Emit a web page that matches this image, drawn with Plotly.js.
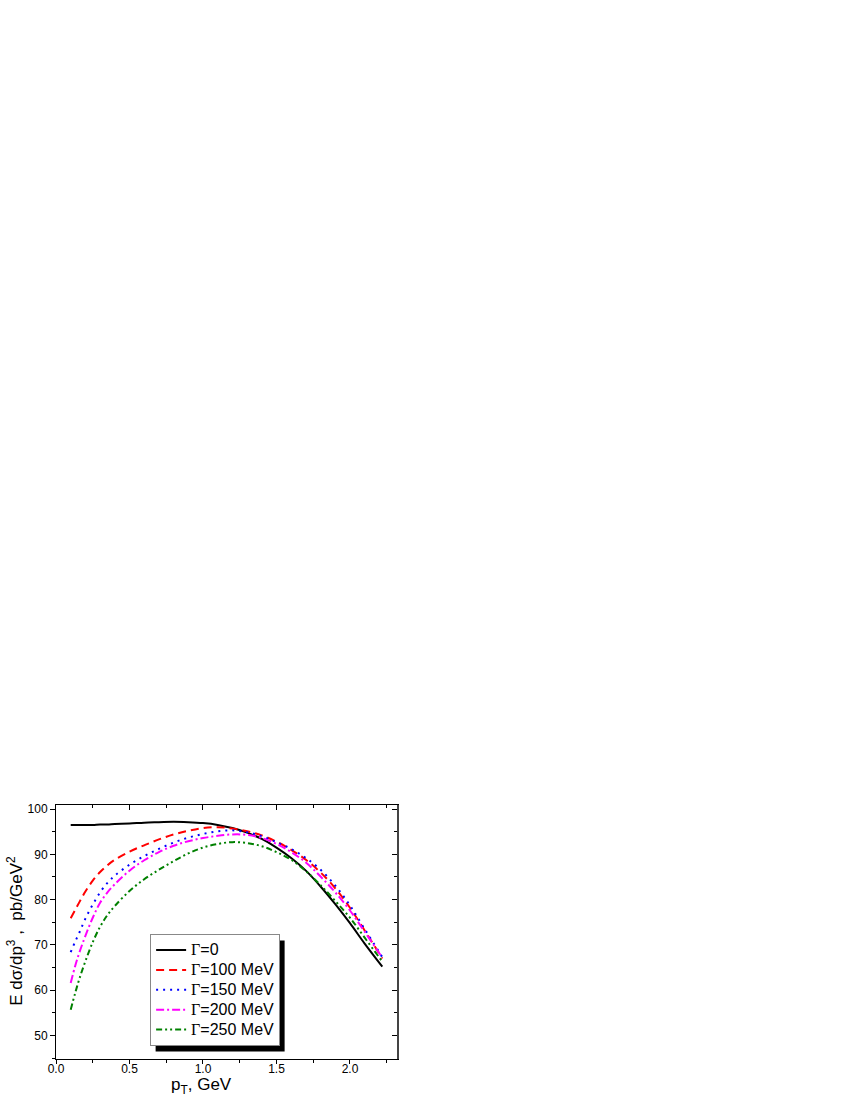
<!DOCTYPE html>
<html>
<head>
<meta charset="utf-8">
<script src="https://cdn.plot.ly/plotly-3.0.1.min.js"></script>
<style>
  body { margin: 0; background: #fff; }
  #chart { width: 850px; height: 1100px; }
</style>
</head>
<body>
<div id="chart"></div>
<script>
// values (pT in GeV, E dsigma/dp3 in pb/GeV^2)
let ptGrid = [0.10, 0.13, 0.16, 0.20, 0.25, 0.30, 0.35, 0.40, 0.50, 0.60, 0.70, 0.80, 0.90,
              1.00, 1.10, 1.20, 1.30, 1.40, 1.50, 1.60, 1.70, 1.80, 1.90, 2.00, 2.10, 2.22];

let gamma0   = [96.5, 96.5, 96.5, 96.5, 96.5, 96.6, 96.6, 96.7, 96.8, 97.0, 97.1, 97.2, 97.1,
                96.9, 96.5, 95.8, 94.8, 93.4, 91.5, 89.2, 86.4, 82.9, 79.0, 74.8, 70.3, 65.2];
let gamma100 = [75.9, 77.7, 79.5, 81.8, 84.2, 86.1, 87.6, 88.8, 90.6, 92.0, 93.3, 94.4, 95.2,
                95.8, 96.0, 95.7, 95.1, 94.2, 92.8, 91.0, 88.8, 86.0, 82.5, 78.2, 73.2, 67.0];
let gamma150 = [68.4, 70.7, 72.8, 75.8, 78.9, 81.6, 83.7, 85.3, 87.7, 89.6, 91.2, 92.6, 93.7,
                94.5, 95.1, 95.3, 94.9, 94.0, 92.7, 91.2, 89.2, 86.6, 83.1, 78.7, 73.5, 67.3];
let gamma200 = [61.6, 65.3, 68.4, 72.0, 76.0, 79.3, 81.6, 83.4, 86.4, 88.7, 90.5, 91.9, 92.9,
                93.6, 94.1, 94.4, 94.3, 93.6, 92.3, 90.5, 88.2, 85.1, 81.6, 77.6, 72.9, 67.2];
let gamma250 = [55.7, 59.3, 62.6, 66.4, 70.6, 74.0, 76.6, 78.6, 81.9, 84.5, 86.6, 88.5, 90.2,
                91.5, 92.3, 92.7, 92.5, 91.8, 90.5, 88.8, 86.3, 83.2, 79.7, 76.0, 71.6, 66.3];

let seriesNames = ['=0', '=100 MeV', '=150 MeV', '=200 MeV', '=250 MeV'];
let seriesValues = [gamma0, gamma100, gamma150, gamma200, gamma250];
let seriesColors = ['#000000', '#ff0000', '#0000ff', '#ff00ff', '#008000'];
let seriesDash = ['solid', '8px,5px', '2px,5px', '8px,3px,2px,3px', '6px,3px,2px,3px,2px,3px'];

let xRange = [0, 2.32];
let yRange = [44.8, 100.9];

let data = [];
for (let i = 0; i < seriesValues.length; i++) {
    data.push({
        x: ptGrid,
        y: seriesValues[i],
        type: 'scatter',
        mode: 'lines',
        // legend rows are spaced by legend.font.size, the text itself is drawn a bit larger
        name: '<span style="font-size:16px"><span style="font-family:Liberation Serif">\u0393</span>' +
              seriesNames[i] + '</span>',
        line: {color: seriesColors[i], width: 2, dash: seriesDash[i], shape: 'spline', smoothing: 1}
    });
}

// empty trace so the mirrored top / right axes (ticks inside) get drawn
data.push({x: [], y: [], xaxis: 'x2', yaxis: 'y2', showlegend: false, hoverinfo: 'skip'});

let font = 'Liberation Sans, Arial';
let tickFont = {family: font, size: 12, color: '#000'};

let layout = {
    width: 850,
    height: 1100,
    paper_bgcolor: '#fff',
    plot_bgcolor: '#fff',
    margin: {l: 56, r: 453, t: 805, b: 41},
    showlegend: true,
    xaxis: {
        range: xRange, tick0: 0, dtick: 0.5, tickformat: '.1f',
        ticks: 'outside', ticklen: 4, tickwidth: 1, tickcolor: '#000',
        minor: {dtick: 0.25, ticks: 'outside', ticklen: 3, tickcolor: '#000'},
        showline: true, linecolor: '#000', linewidth: 1, ticklabelstandoff: -5,
        showgrid: false, zeroline: false, tickfont: tickFont
    },
    yaxis: {
        range: yRange, tick0: 50, dtick: 10,
        ticks: 'outside', ticklen: 5, tickwidth: 1, tickcolor: '#000',
        minor: {dtick: 5, ticks: 'outside', ticklen: 3, tickcolor: '#000'},
        showline: true, linecolor: '#000', linewidth: 1,
        showgrid: false, zeroline: false, tickfont: tickFont
    },
    xaxis2: {
        overlaying: 'x', side: 'top', anchor: 'y2', range: xRange, tick0: 0, dtick: 0.5,
        ticks: 'inside', ticklen: 5, tickcolor: '#000', showticklabels: false,
        minor: {dtick: 0.25, ticks: 'inside', ticklen: 3, tickcolor: '#000'},
        showline: true, linecolor: '#000', linewidth: 1, showgrid: false, zeroline: false
    },
    yaxis2: {
        overlaying: 'y', side: 'right', anchor: 'x2', range: yRange, tick0: 50, dtick: 10,
        ticks: 'inside', ticklen: 5, tickcolor: '#000', showticklabels: false,
        minor: {dtick: 5, ticks: 'inside', ticklen: 3, tickcolor: '#000'},
        showline: true, linecolor: '#444', linewidth: 1.5, showgrid: false, zeroline: false
    },
    annotations: [
        {text: 'p<sub>T</sub>, GeV', xref: 'paper', yref: 'paper', x: 0.428, y: -0.105,
         xanchor: 'center', yanchor: 'middle', showarrow: false,
         font: {family: font, size: 17, color: '#000'}},
        {text: 'E d\u03c3/dp<sup>3</sup> ,  pb/GeV<sup>2</sup>', xref: 'paper', yref: 'paper',
         x: -0.12, y: 0.505, xanchor: 'center', yanchor: 'middle', textangle: -90, showarrow: false,
         font: {family: font, size: 17, color: '#000'}}
    ],
    legend: {
        x: 0.276, y: 0.492, xanchor: 'left', yanchor: 'top',
        bgcolor: '#fff', bordercolor: '#888', borderwidth: 1,
        font: {family: font, size: 13, color: '#000'},
        itemwidth: 30, tracegroupgap: 0
    }
};

Plotly.newPlot('chart', data, layout, {staticPlot: true}).then(function (gd) {
    // drop shadow: black box offset 5px right/down behind the legend box
    let box = gd.querySelector('.legend .bg').getBoundingClientRect();
    let sz = gd._fullLayout._size;
    let toX = function (px) { return (px - sz.l) / sz.w; };
    let toY = function (py) { return (sz.t + sz.h - py) / sz.h; };
    Plotly.relayout(gd, {shapes: [{
        type: 'rect', xref: 'paper', yref: 'paper',
        x0: toX(box.left + 5), x1: toX(box.right + 5),
        y0: toY(box.bottom + 6), y1: toY(box.top + 6),
        fillcolor: '#000', line: {width: 0}, layer: 'above'
    }]});
});
</script>
</body>
</html>
